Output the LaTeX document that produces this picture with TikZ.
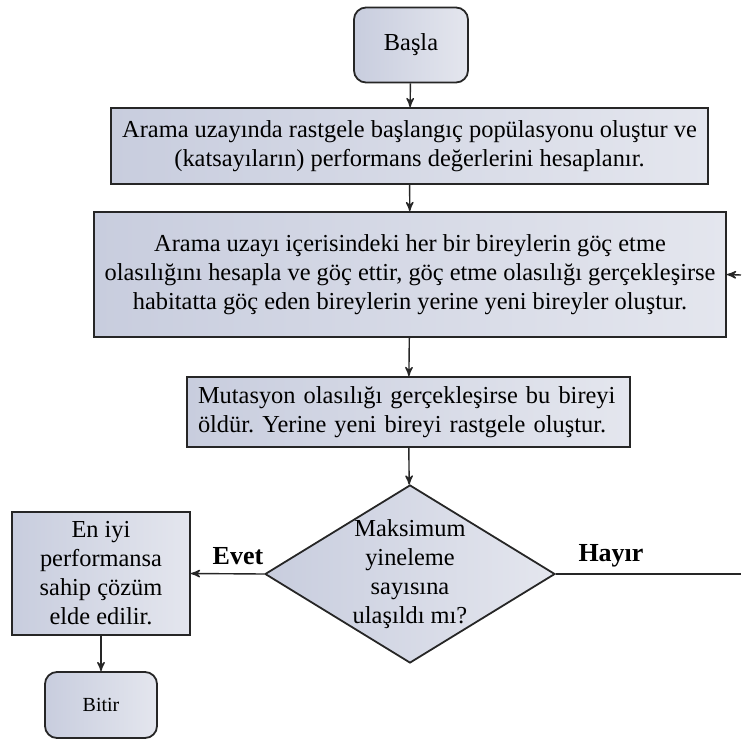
\documentclass[tikz,border=0pt]{standalone}
\usepackage{fontspec}
\setmainfont{Liberation Serif}
\usetikzlibrary{arrows,shapes,calc}
\definecolor{boxdark}{RGB}{200,205,222}
\definecolor{boxlight}{RGB}{228,230,238}
\tikzset{box/.style={draw=black!85,line width=0.9pt,left color=boxdark,right color=boxlight,align=center,inner sep=0pt,font=\fontsize{12.2}{14.5}\selectfont}}
\tikzset{term/.style={box,rounded corners=6pt}}
\tikzset{flow/.style={-stealth',line width=0.7pt,black!85}}
\tikzset{answer/.style={font=\bfseries\fontsize{13}{14}\selectfont}}

\begin{document}
\frenchspacing
\begin{tikzpicture}[x=0.5pt,y=-0.5pt]
    \useasboundingbox (0,0) rectangle (741,750);
    \node [term,minimum width=57pt,minimum height=37.5pt] (start) at (411,45) {Başla};
    \node [box,minimum width=298.5pt,minimum height=38pt] (init) at (409.5,146)
        {Arama uzayında rastgele başlangıç popülasyonu oluştur ve\\(katsayıların) performans değerlerini hesaplanır.};
    \node [box,minimum width=316pt,minimum height=62.5pt] (migr) at (410,274.5)
        {Arama uzayı içerisindeki her bir bireylerin göç etme\\olasılığını hesapla ve göç ettir, göç etme olasılığı gerçekleşirse\\habitatta göç eden bireylerin yerine yeni bireyler oluştur.};
    \node [box,align=left,text width=210.5pt,inner xsep=5.5pt,minimum height=35pt] (mut) at (408.5,412)
        {Mutasyon olasılığı gerçekleşirse bu bireyi\\öldür. Yerine yeni bireyi rastgele oluştur.};
    \node [box,diamond,minimum width=145pt,minimum height=89pt] (check) at (410,574) {};
    \node [align=center,inner sep=0pt,font=\fontsize{12.2}{14.5}\selectfont] (checktxt) at (410,574)
        {Maksimum\\yineleme\\sayısına\\ulaşıldı mı?};
    \node [box,minimum width=89pt,minimum height=61.5pt] (best) at (101,573.5)
        {En iyi\\performansa\\sahip çözüm\\elde edilir.};
    \node [term,minimum width=56pt,minimum height=33pt,font=\fontsize{10}{12}\selectfont] (stop) at (101,705) {Bitir};
    \node [answer] (yes) at (238,556) {Evet};
    \node [answer] (no) at (611,556) {Hayır};
    \coordinate (loopend) at (741,574);
    \coordinate (loopin) at (741,275);
    \draw [flow] (start) -- (init);
    \draw [flow] (init) -- (migr);
    \draw [flow] (migr) -- (mut);
    \draw [flow] (mut) -- (check);
    \draw [flow] (check.west) -- (best.east);
    \draw [flow] (best) -- (stop);
    \draw [line width=0.7pt,black!85] (check.east) -- (loopend);
    \draw [flow] (loopin) -- (migr.east);
\end{tikzpicture}
\end{document}
